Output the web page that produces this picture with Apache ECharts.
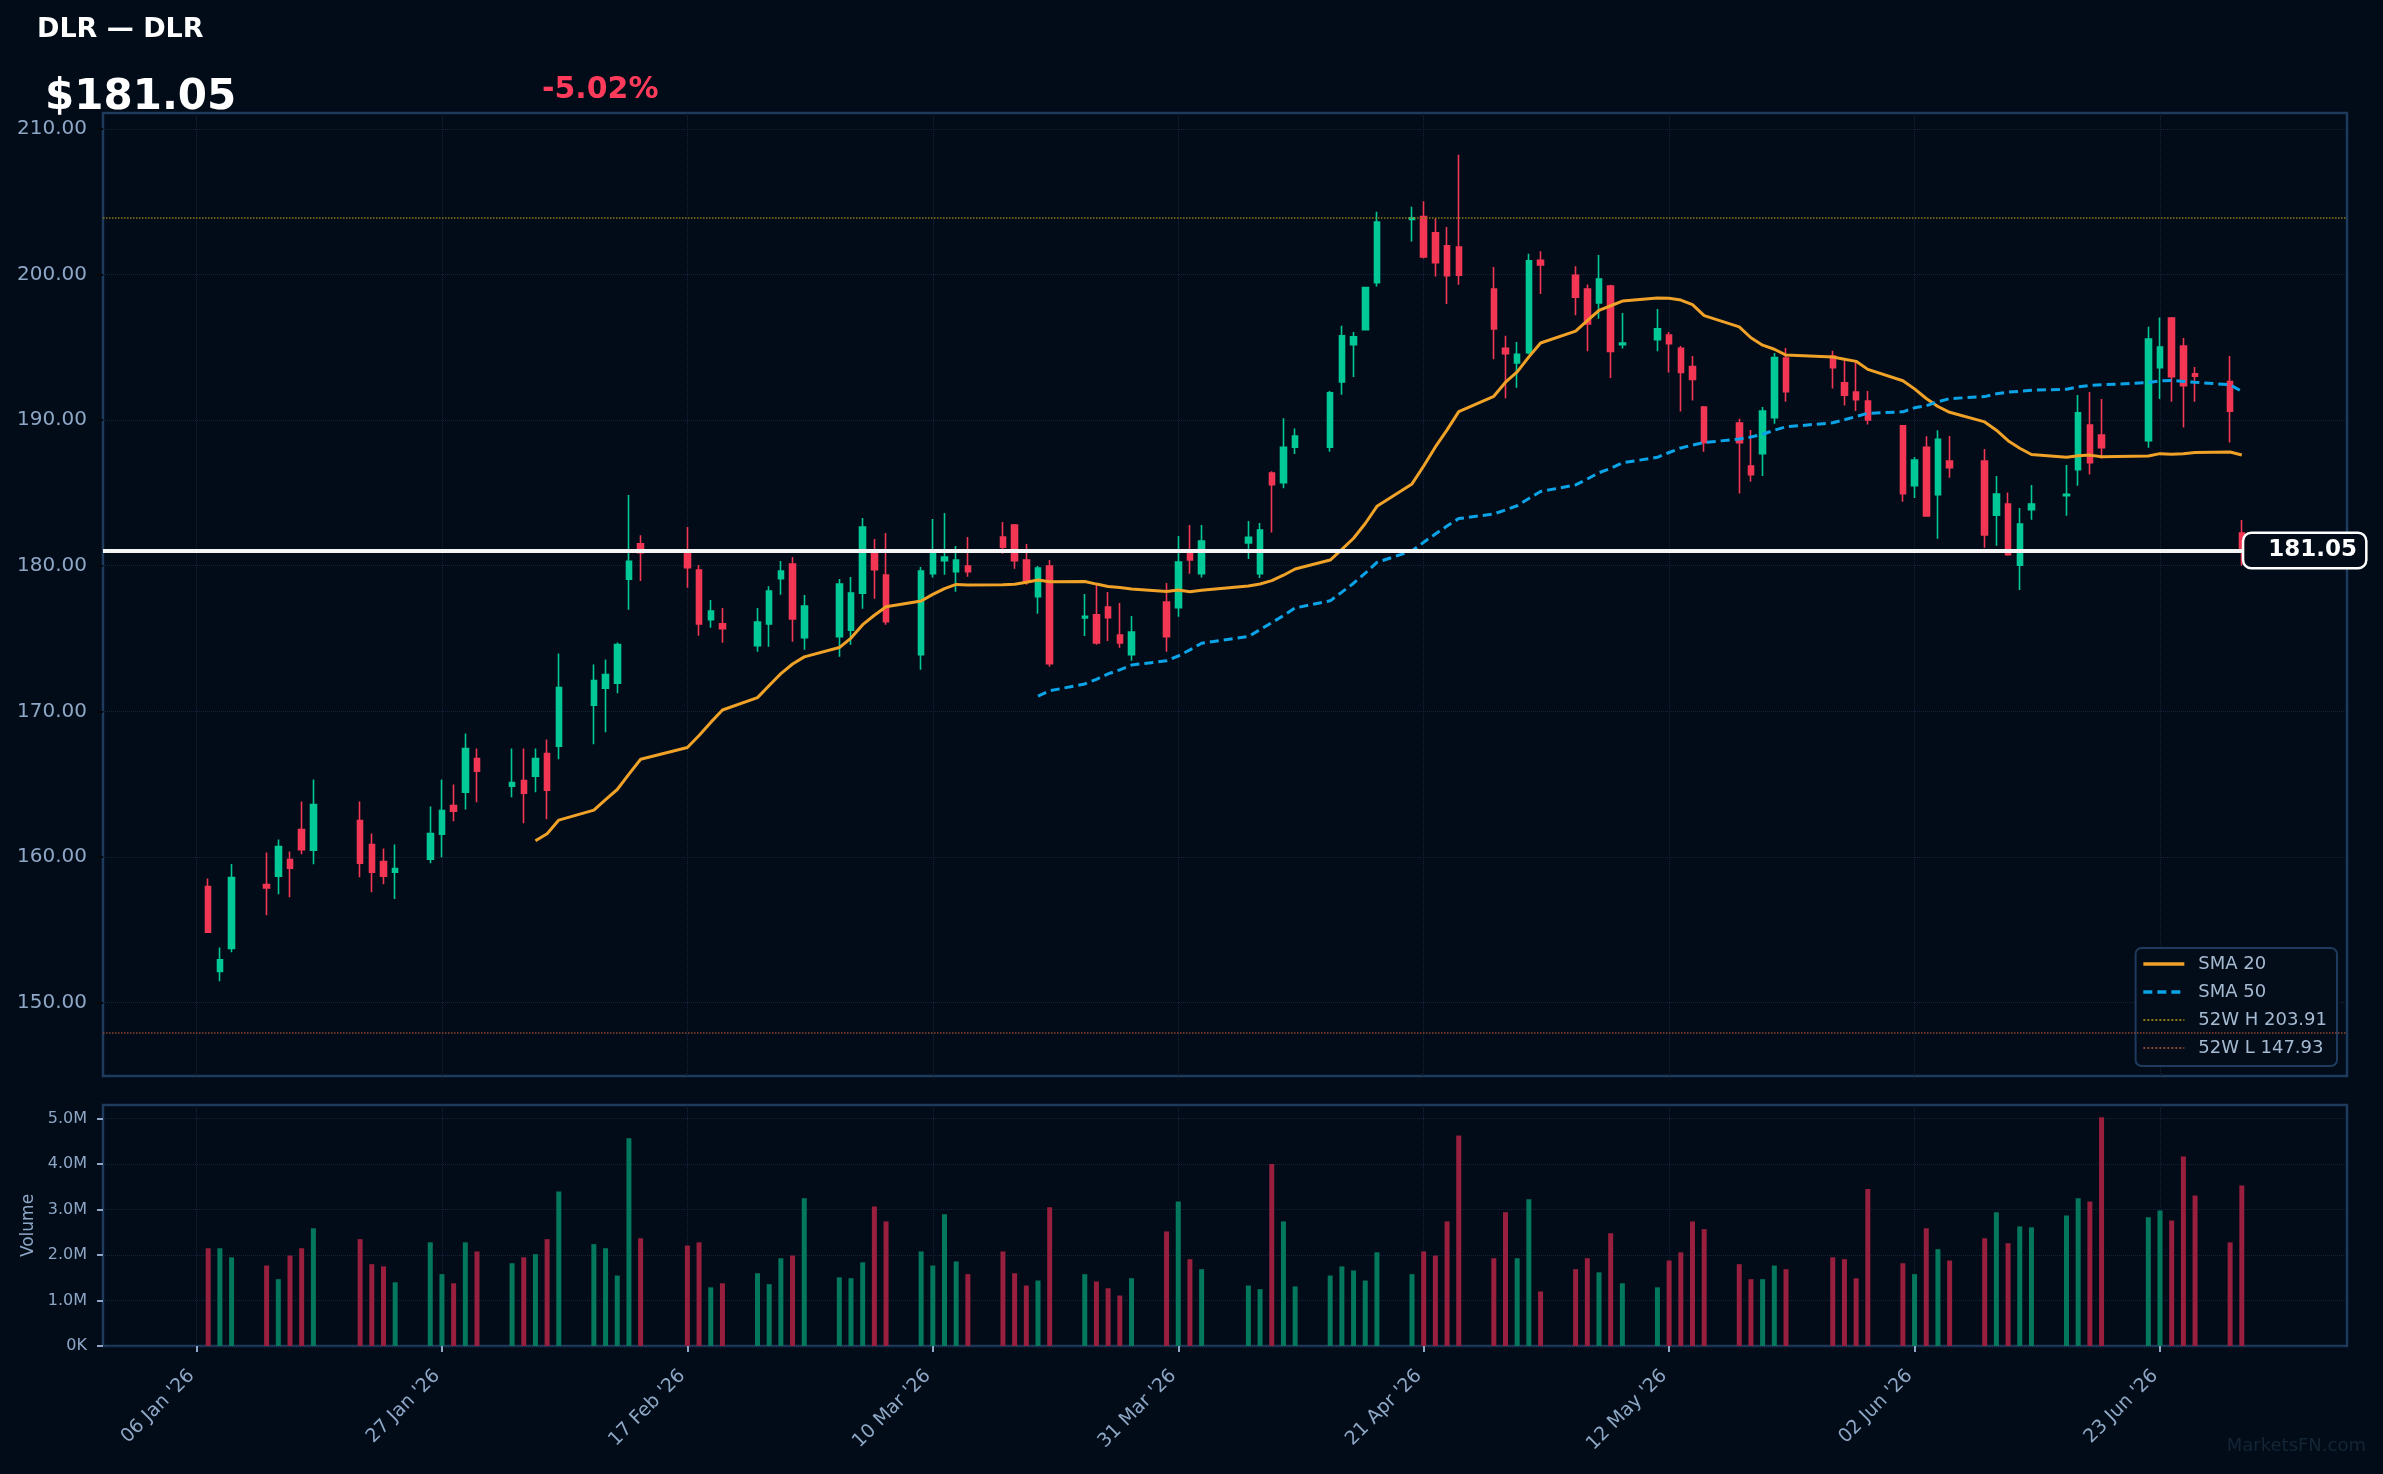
<!DOCTYPE html>
<html lang="en">
<head>
<meta charset="UTF-8">
<title>DLR</title>
<script src="https://cdn.jsdelivr.net/npm/echarts@6/dist/echarts.min.js"></script>
<style>
  html, body { margin: 0; padding: 0; background: #010c18; }
  #main { width: 2383px; height: 1474px; }
</style>
</head>
<body>
<div id="main"></div>
<script type="text/javascript">
var ticker = 'DLR';

// trading days, Jan-Jun 2026
var dates = [
  '2026-01-07','2026-01-08','2026-01-09','2026-01-12','2026-01-13','2026-01-14','2026-01-15','2026-01-16',
  '2026-01-20','2026-01-21','2026-01-22','2026-01-23','2026-01-26','2026-01-27','2026-01-28','2026-01-29','2026-01-30',
  '2026-02-02','2026-02-03','2026-02-04','2026-02-05','2026-02-06','2026-02-09','2026-02-10','2026-02-11','2026-02-12','2026-02-13',
  '2026-02-17','2026-02-18','2026-02-19','2026-02-20','2026-02-23','2026-02-24','2026-02-25','2026-02-26','2026-02-27',
  '2026-03-02','2026-03-03','2026-03-04','2026-03-05','2026-03-06','2026-03-09','2026-03-10','2026-03-11','2026-03-12','2026-03-13',
  '2026-03-16','2026-03-17','2026-03-18','2026-03-19','2026-03-20','2026-03-23','2026-03-24','2026-03-25','2026-03-26','2026-03-27',
  '2026-03-30','2026-03-31',
  '2026-04-01','2026-04-02','2026-04-06','2026-04-07','2026-04-08','2026-04-09','2026-04-10','2026-04-13','2026-04-14','2026-04-15',
  '2026-04-16','2026-04-17','2026-04-20','2026-04-21','2026-04-22','2026-04-23','2026-04-24','2026-04-27','2026-04-28','2026-04-29','2026-04-30',
  '2026-05-01','2026-05-04','2026-05-05','2026-05-06','2026-05-07','2026-05-08','2026-05-11','2026-05-12','2026-05-13','2026-05-14',
  '2026-05-15','2026-05-18','2026-05-19','2026-05-20','2026-05-21','2026-05-22','2026-05-26','2026-05-27','2026-05-28','2026-05-29',
  '2026-06-01','2026-06-02','2026-06-03','2026-06-04','2026-06-05','2026-06-08','2026-06-09','2026-06-10','2026-06-11','2026-06-12',
  '2026-06-15','2026-06-16','2026-06-17','2026-06-18','2026-06-22','2026-06-23','2026-06-24','2026-06-25','2026-06-26','2026-06-29','2026-06-30'
];

var opens = [
  157.96,152.14,153.72,158.10,158.67,159.82,161.88,160.46,162.50,160.85,159.68,158.95,159.84,161.56,163.53,164.44,166.76,
  164.86,165.25,165.54,167.10,167.61,170.42,171.59,171.94,179.08,181.50,181.00,179.70,176.29,176.01,174.50,176.01,179.11,180.12,175.05,
  175.12,175.58,178.12,180.87,179.36,173.89,179.45,180.35,179.59,179.98,181.97,182.80,180.39,177.87,179.98,176.41,176.63,177.16,175.24,173.89,177.51,177.12,
  180.89,179.46,181.57,179.46,186.36,185.70,188.14,188.14,192.62,195.19,196.22,199.45,203.79,203.98,202.87,201.98,201.90,199.00,194.93,193.93,194.64,
  200.98,199.95,199.00,198.06,199.22,195.19,195.53,195.85,194.93,193.69,190.90,189.80,186.84,187.70,190.17,194.27,194.41,192.56,191.94,191.32,
  189.62,185.50,188.14,184.88,187.20,187.20,183.48,184.24,180.03,183.85,184.81,186.60,189.67,188.98,188.59,193.61,197.02,195.10,193.18,192.65,182.25
];
var highs = [
  158.51,153.77,159.52,160.30,161.19,160.37,163.80,165.31,163.80,161.60,160.57,160.85,163.46,165.31,164.97,168.48,167.45,
  167.45,167.45,167.45,168.06,173.97,173.22,173.56,174.73,184.86,182.10,182.66,180.05,177.64,177.09,177.09,178.60,180.32,180.60,177.99,
  179.09,179.22,183.28,181.84,182.25,179.91,183.21,183.62,181.35,181.97,183.00,182.87,181.49,179.98,180.39,178.06,178.77,178.19,177.44,176.54,178.81,182.04,
  182.80,182.80,183.07,182.94,186.49,190.14,189.43,192.01,196.48,196.06,199.16,204.32,204.66,205.03,203.87,203.27,208.24,200.53,195.80,195.37,201.43,
  201.61,200.58,199.32,201.35,199.30,197.37,197.64,196.06,195.09,194.40,190.98,190.09,189.33,190.91,194.62,194.96,194.76,194.16,194.02,192.01,
  189.67,187.47,188.89,189.30,188.91,188.02,186.16,185.04,183.97,185.55,186.92,191.73,191.94,191.46,196.41,197.05,197.09,195.65,193.66,194.41,183.14
];
var lows = [
  154.80,151.46,153.45,155.99,157.43,157.23,160.18,159.50,158.60,157.57,158.12,157.10,159.56,159.98,162.45,163.25,163.76,
  164.10,162.31,164.44,162.59,166.71,167.74,168.57,171.25,176.97,178.95,178.49,175.19,175.74,174.71,174.09,174.44,178.01,174.78,174.23,
  173.75,174.57,177.05,177.73,175.95,172.86,179.20,179.38,178.22,179.25,180.83,179.80,178.70,176.70,173.06,175.17,174.57,174.83,174.37,173.47,174.09,176.50,
  179.45,179.20,180.46,179.15,182.28,185.33,187.67,187.83,191.75,192.96,196.17,199.19,202.27,201.11,199.87,197.98,199.30,194.19,191.51,192.22,194.53,
  198.66,197.20,194.74,196.96,192.90,194.93,194.74,193.27,190.59,191.35,187.83,184.96,185.77,186.16,189.76,191.27,192.17,191.00,190.63,189.70,
  184.40,184.65,183.37,181.86,186.05,181.24,181.38,180.69,178.33,183.16,183.44,185.50,186.26,187.36,188.11,191.46,191.27,189.49,191.27,188.46,180.00
];
var closes = [
  154.82,152.94,158.58,157.87,160.71,159.22,160.50,163.60,159.56,158.95,158.67,159.20,161.60,163.18,163.14,167.45,165.89,
  165.11,164.38,166.76,164.58,171.64,172.12,172.53,174.59,180.31,180.90,179.86,176.01,176.89,175.67,176.13,178.26,179.64,176.34,177.23,
  178.74,178.12,182.66,179.73,176.15,179.64,181.10,180.60,180.39,179.59,181.28,180.35,178.97,179.84,173.27,176.52,174.69,176.43,174.69,175.44,175.12,180.25,
  180.40,181.70,181.96,182.46,185.57,188.14,188.91,191.88,195.80,195.72,199.11,203.61,203.90,201.22,200.82,199.93,199.95,196.27,194.56,194.53,200.95,
  200.66,198.45,196.61,199.69,194.72,195.30,196.27,195.25,193.27,192.80,188.46,188.46,186.25,190.63,194.30,191.96,193.61,191.71,191.41,190.01,
  184.95,187.26,183.42,188.68,186.74,182.11,184.93,180.76,182.87,184.24,184.91,190.50,187.08,188.11,195.58,195.03,192.99,192.37,193.02,190.62,181.05
];
// volume in millions of shares
var volumes = [
  2.15,2.15,1.95,1.77,1.47,1.99,2.15,2.59,2.35,1.80,1.75,1.40,2.28,1.58,1.38,2.28,2.08,
  1.82,1.95,2.02,2.35,3.40,2.24,2.15,1.55,4.57,2.37,2.21,2.28,1.29,1.38,1.60,1.36,1.93,1.99,3.25,
  1.51,1.49,1.84,3.07,2.74,2.08,1.77,2.90,1.86,1.58,2.08,1.60,1.33,1.44,3.05,1.58,1.42,1.27,1.11,1.49,2.52,3.18,
  1.91,1.69,1.33,1.25,4.00,2.74,1.31,1.55,1.75,1.66,1.44,2.06,1.58,2.08,1.99,2.74,4.63,1.93,2.94,1.93,3.23,
  1.20,1.69,1.93,1.62,2.48,1.38,1.29,1.88,2.06,2.74,2.57,1.80,1.47,1.47,1.77,1.69,1.95,1.91,1.49,3.45,
  1.82,1.58,2.59,2.13,1.88,2.37,2.94,2.26,2.63,2.61,2.87,3.25,3.18,5.03,2.83,2.98,2.76,4.17,3.31,2.28,3.53
];

var hi52 = 203.91;
var lo52 = 147.93;

// axis ticks
var tickDates = ['2026-01-06','2026-01-27','2026-02-17','2026-03-10','2026-03-31','2026-04-21','2026-05-12','2026-06-02','2026-06-23'];
var priceTicks = [150, 160, 170, 180, 190, 200, 210];
var volTicks = [0, 1, 2, 3, 4, 5];

var UP = '#00c896', DOWN = '#f23654';
var UP_VOL = '#03785c', DOWN_VOL = '#981f3d';
var SMA20_C = '#f0a228', SMA50_C = '#0ba4e8', HI_C = '#8c7a14', LO_C = '#8f4430';
var TXT = '#8ea7c6', GRIDC = '#15243a', FRAME = '#1e3a5c';

function toTime(s) {
    var p = s.split('-');
    return Date.UTC(+p[0], +p[1] - 1, +p[2]);
}
var MON = ['Jan','Feb','Mar','Apr','May','Jun','Jul','Aug','Sep','Oct','Nov','Dec'];
function fmtDate(v) {
    var d = new Date(v);
    var dd = ('0' + d.getUTCDate()).slice(-2);
    return dd + ' ' + MON[d.getUTCMonth()] + " '" + String(d.getUTCFullYear()).slice(-2);
}

function sma(n) {
    var out = [];
    for (var i = n - 1; i < closes.length; i++) {
        var s = 0;
        for (var j = i - n + 1; j <= i; j++) s += closes[j];
        out.push([toTime(dates[i]), +(s / n).toFixed(2)]);
    }
    return out;
}

var candles = dates.map(function (d, i) {
    return [toTime(d), opens[i], closes[i], lows[i], highs[i]];
});
var vols = dates.map(function (d, i) {
    return {
        value: [toTime(d), volumes[i] * 1e6],
        itemStyle: { color: closes[i] >= opens[i] ? UP_VOL : DOWN_VOL }
    };
});
var tickTimes = tickDates.map(toTime);
var volTickVals = volTicks.map(function (v) { return v * 1e6; });
var xMin = toTime('2025-12-29'), xMax = toTime('2026-07-09');

var last = closes[closes.length - 1];
var prev = closes[closes.length - 2];
var pct = (last - prev) / prev * 100;
var hiName = '52W H ' + hi52.toFixed(2);
var loName = '52W L ' + lo52.toFixed(2);

var myChart = echarts.init(document.getElementById('main'));

var option = {
    backgroundColor: '#010c18',
    animation: false,
    textStyle: { fontFamily: 'DejaVu Sans' },
    title: [
        { text: ticker + ' \u2014 ' + ticker, left: 37, top: 16, padding: 0,
          textStyle: { color: '#ffffff', fontSize: 27, fontWeight: 'bold', fontFamily: 'DejaVu Sans' } },
        { text: '$' + last.toFixed(2), left: 45, top: 77, padding: 0,
          textStyle: { color: '#ffffff', fontSize: 42, fontWeight: 'bold', fontFamily: 'DejaVu Sans' } },
        { text: (pct >= 0 ? '+' : '') + pct.toFixed(2) + '%', left: 542, top: 75, padding: 0,
          textStyle: { color: pct >= 0 ? UP : '#ff3b5c', fontSize: 30, fontWeight: 'bold', fontFamily: 'DejaVu Sans' } },
        { text: 'MarketsFN.com', right: 17, top: 1437, padding: 0,
          textStyle: { color: '#142536', fontSize: 18, fontWeight: 'normal', fontFamily: 'DejaVu Sans' } }
    ],
    legend: {
        orient: 'vertical',
        right: 46,
        bottom: 408,
        padding: [7, 10, 9, 6],
        itemWidth: 41,
        itemHeight: 12,
        itemGap: 10,
        backgroundColor: '#020d19',
        borderColor: FRAME,
        borderWidth: 2,
        borderRadius: 6,
        itemStyle: { opacity: 0 },
        textStyle: { color: '#a6bad2', fontSize: 18, padding: [0, 0, 0, 9] },
        data: [
            { name: 'SMA 20', lineStyle: { width: 3.5 } },
            { name: 'SMA 50', lineStyle: { width: 3.5 } },
            { name: hiName, lineStyle: { width: 2 } },
            { name: loName, lineStyle: { width: 2 } }
        ]
    },
    grid: [
        { left: 103, top: 113, width: 2244, height: 963, show: true, borderColor: FRAME, borderWidth: 2.5, backgroundColor: 'transparent' },
        { left: 103, top: 1105, width: 2244, height: 241, show: true, borderColor: FRAME, borderWidth: 2.5, backgroundColor: 'transparent' }
    ],
    xAxis: [
        {
            type: 'value', gridIndex: 0, min: xMin, max: xMax,
            axisLine: { show: false },
            axisTick: { show: false, customValues: tickTimes },
            axisLabel: { show: false, customValues: tickTimes },
            splitLine: { show: true, lineStyle: { color: GRIDC, type: 'dotted' } }
        },
        {
            type: 'value', gridIndex: 1, min: xMin, max: xMax,
            axisLine: { show: false },
            axisTick: { show: true, length: 6, customValues: tickTimes, lineStyle: { color: TXT, width: 2 } },
            axisLabel: { customValues: tickTimes, rotate: 45, color: TXT, fontSize: 19, margin: 22,
                         padding: [0, 7, 0, 0], formatter: fmtDate },
            splitLine: { show: true, lineStyle: { color: GRIDC, type: 'dotted' } }
        }
    ],
    yAxis: [
        {
            type: 'value', gridIndex: 0, min: 144.95, max: 211.1,
            axisLine: { show: false },
            axisTick: { show: true, length: 6, customValues: priceTicks, lineStyle: { color: '#04070b', width: 2 } },
            axisLabel: { customValues: priceTicks, color: TXT, fontSize: 20, margin: 16,
                         formatter: function (v) { return v.toFixed(2); } },
            splitLine: { show: true, lineStyle: { color: GRIDC, type: 'dotted' } }
        },
        {
            type: 'value', gridIndex: 1, min: 0, max: 5.3e6,
            name: 'Volume', nameLocation: 'middle', nameGap: 66,
            nameTextStyle: { color: TXT, fontSize: 17 },
            axisLine: { show: false },
            axisTick: { show: true, length: 6, customValues: volTickVals, lineStyle: { color: TXT, width: 2 } },
            axisLabel: { customValues: volTickVals, color: TXT, fontSize: 16, margin: 16,
                         formatter: function (v) { return v === 0 ? '0K' : (v / 1e6).toFixed(1) + 'M'; } },
            splitLine: { show: true, lineStyle: { color: GRIDC, type: 'dotted' } }
        }
    ],
    series: [
        {
            name: ticker,
            type: 'candlestick',
            xAxisIndex: 0, yAxisIndex: 0,
            encode: { x: 0, y: [1, 2, 3, 4] },
            barWidth: 6,
            itemStyle: { color: UP, color0: DOWN, borderColor: UP, borderColor0: DOWN, borderWidth: 1.6 },
            data: candles,
            markLine: {
                silent: true, symbol: 'none', animation: false,
                label: { show: false },
                lineStyle: { color: '#f4f4f4', width: 4, type: 'solid' },
                data: [{ yAxis: last }]
            },
            markPoint: {
                silent: true, symbol: 'rect', symbolSize: 1,
                itemStyle: { color: 'rgba(0,0,0,0)' },
                label: {
                    show: true, position: 'right', distance: 2,
                    formatter: last.toFixed(2),
                    color: '#ffffff', fontSize: 23, fontWeight: 'bold',
                    backgroundColor: '#010c18', borderColor: '#ffffff', borderWidth: 2.5, borderRadius: 7,
                    padding: [5, 8, 5, 24]
                },
                data: [{ coord: [toTime(dates[dates.length - 1]), last] }]
            }
        },
        {
            name: 'SMA 20', type: 'line', xAxisIndex: 0, yAxisIndex: 0,
            data: sma(20), symbol: 'none', smooth: false,
            lineStyle: { color: SMA20_C, width: 3 },
            itemStyle: { color: SMA20_C, opacity: 0 }
        },
        {
            name: 'SMA 50', type: 'line', xAxisIndex: 0, yAxisIndex: 0,
            data: sma(50), symbol: 'none',
            lineStyle: { color: SMA50_C, width: 3, type: [9, 5] },
            itemStyle: { color: SMA50_C, opacity: 0 }
        },
        {
            name: hiName, type: 'line', xAxisIndex: 0, yAxisIndex: 0,
            data: [], symbol: 'none',
            lineStyle: { color: HI_C, width: 2, type: 'dotted' },
            itemStyle: { color: HI_C, opacity: 0 },
            markLine: {
                silent: true, symbol: 'none', label: { show: false },
                lineStyle: { color: HI_C, width: 1.5, type: 'dotted', opacity: 1 },
                data: [{ yAxis: hi52 }]
            }
        },
        {
            name: loName, type: 'line', xAxisIndex: 0, yAxisIndex: 0,
            data: [], symbol: 'none',
            lineStyle: { color: LO_C, width: 2, type: 'dotted' },
            itemStyle: { color: LO_C, opacity: 0 },
            markLine: {
                silent: true, symbol: 'none', label: { show: false },
                lineStyle: { color: LO_C, width: 1.5, type: 'dotted', opacity: 1 },
                data: [{ yAxis: lo52 }]
            }
        },
        {
            name: 'Volume', type: 'bar', xAxisIndex: 1, yAxisIndex: 1,
            barWidth: 5,
            data: vols
        }
    ]
};

myChart.setOption(option);
</script>
</body>
</html>
